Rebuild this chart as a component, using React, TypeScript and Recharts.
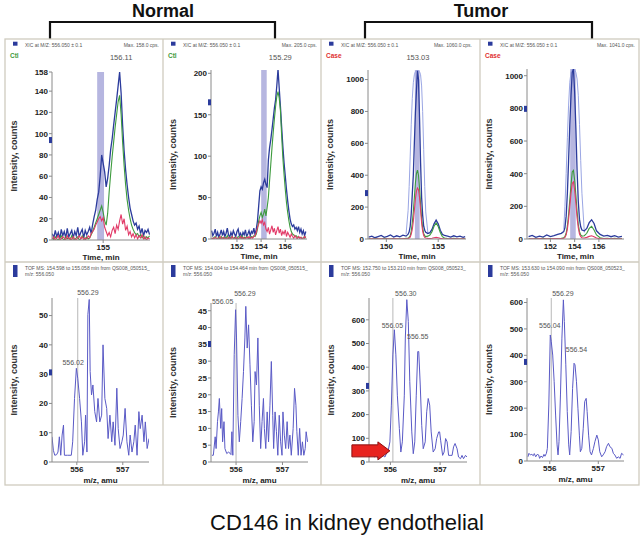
import React from 'react';
import { ComposedChart, Line, XAxis, YAxis, ReferenceArea, ReferenceLine, ReferenceDot } from 'recharts';

const FONT = '"Liberation Sans", Arial, Helvetica, sans-serif';

// ---------------- XIC panel 1 (Normal, Ctl) ----------------
const xic1Time = [
  151.6, 151.7, 151.8, 151.9, 152.0, 152.1, 152.2, 152.3, 152.4, 152.5,
  152.6, 152.7, 152.8, 152.9, 153.0, 153.1, 153.2, 153.3, 153.4, 153.5,
  153.6, 153.7, 153.8, 153.9, 154.0, 154.1, 154.2, 154.3, 154.4, 154.5,
  154.6, 154.7, 154.8, 154.9, 155.0, 155.1, 155.2, 155.3, 155.4, 155.5,
  155.6, 155.7, 155.8, 155.9, 156.0, 156.1, 156.2, 156.3, 156.4, 156.5,
  156.6, 156.7, 156.8, 156.9, 157.0, 157.1, 157.2, 157.3, 157.4, 157.5,
  157.6, 157.7, 157.8, 157.9, 158.0, 158.1,
];
const xic1Blue = [
  6, 2, 9, 3, 7, 1, 10, 4, 8, 2,
  11, 3, 6, 9, 2, 8, 4, 12, 3, 7,
  10, 2, 9, 5, 8, 12, 6, 15, 22, 28,
  38, 45, 60, 80, 72, 64, 50, 58, 70, 85,
  95, 108, 120, 132, 145, 158, 138, 108, 84, 66,
  52, 40, 30, 24, 18, 14, 16, 10, 13, 6,
  11, 4, 9, 7, 10, 5,
];
const xic1Green = [
  2, 0, 3, 1, 0, 2, 4, 1, 0, 3,
  1, 2, 0, 4, 1, 0, 2, 3, 0, 1,
  4, 2, 0, 3, 1, 2, 5, 8, 12, 16,
  20, 24, 28, 32, 26, 18, 14, 25, 45, 62,
  78, 92, 106, 118, 130, 136, 118, 92, 70, 52,
  38, 28, 20, 14, 10, 7, 5, 6, 3, 5,
  2, 4, 1, 3, 2, 4,
];
const xic1Red = [
  1, 3, 0, 2, 4, 0, 1, 3, 2, 0,
  4, 1, 2, 0, 3, 1, 0, 2, 4, 1,
  3, 0, 2, 1, 4, 2, 6, 8, 10, 14,
  17, 20, 22, 18, 21, 12, 8, 4, 7, 3,
  9, 12, 6, 14, 10, 18, 24, 15, 20, 9,
  13, 5, 8, 3, 6, 2, 5, 1, 4, 2,
  5, 1, 3, 0, 2, 1,
];
const xic1XDomain = [151.58, 158.13];
const xic1XTicks = [155];
const xic1YDomain = [0, 158];
const xic1YTicks = [0, 20, 40, 60, 80, 100, 120, 140, 158];
const xic1Band = [154.598, 155.058];
const xic1Labels = [{ text: '156.11', x: 156.2, y: 169 }];
const xic1Marker = 94;

// ---------------- XIC panel 2 (Normal, Ctl) ----------------
const xic2Time = [
  149.9, 150.0, 150.1, 150.2, 150.3, 150.4, 150.5, 150.6, 150.7, 150.8,
  150.9, 151.0, 151.1, 151.2, 151.3, 151.4, 151.5, 151.6, 151.7, 151.8,
  151.9, 152.0, 152.1, 152.2, 152.3, 152.4, 152.5, 152.6, 152.7, 152.8,
  152.9, 153.0, 153.1, 153.2, 153.3, 153.4, 153.5, 153.6, 153.7, 153.8,
  153.9, 154.0, 154.1, 154.2, 154.3, 154.4, 154.5, 154.6, 154.7, 154.8,
  154.9, 155.0, 155.1, 155.2, 155.3, 155.4, 155.5, 155.6, 155.7, 155.8,
  155.9, 156.0, 156.1, 156.2, 156.3, 156.4, 156.5, 156.6, 156.7, 156.8,
  156.9, 157.0, 157.1, 157.2, 157.3, 157.4, 157.5, 157.6, 157.7,
];
const xic2Blue = [
  10, 4, 7, 12, 3, 8, 2, 6, 11, 4,
  9, 3, 7, 13, 5, 2, 8, 4, 10, 6,
  3, 9, 12, 4, 7, 2, 8, 5, 11, 3,
  6, 10, 4, 9, 7, 13, 5, 12, 22, 40,
  58, 63, 60, 68, 72, 66, 62, 95, 110, 120,
  132, 145, 158, 168, 185, 205, 182, 160, 135, 112,
  92, 76, 60, 46, 34, 24, 18, 15, 17, 12,
  14, 10, 15, 8, 12, 6, 10, 4, 9,
];
const xic2Green = [
  1, 0, 2, 3, 0, 1, 2, 0, 3, 1,
  0, 2, 1, 4, 0, 2, 1, 3, 0, 2,
  1, 0, 3, 2, 1, 4, 0, 2, 1, 3,
  2, 0, 1, 3, 2, 4, 3, 6, 12, 22,
  28, 32, 26, 30, 36, 28, 38, 50, 70, 90,
  110, 128, 145, 160, 172, 178, 170, 155, 125, 98,
  78, 60, 44, 32, 22, 14, 9, 6, 5, 3,
  4, 2, 3, 1, 2, 0, 2, 1, 3,
];
const xic2Red = [
  0, 1, 0, 2, 1, 0, 1, 3, 0, 1,
  2, 0, 1, 0, 2, 1, 0, 3, 1, 0,
  2, 1, 0, 1, 3, 0, 2, 1, 0, 2,
  1, 3, 0, 2, 1, 3, 4, 8, 14, 18,
  22, 19, 23, 17, 20, 12, 9, 14, 6, 11,
  16, 8, 13, 5, 10, 15, 7, 12, 4, 9,
  6, 11, 3, 8, 5, 2, 6, 3, 1, 4,
  2, 0, 3, 1, 2, 0, 1, 3, 1,
];
const xic2XDomain = [149.85, 157.8];
const xic2XTicks = [152, 154, 156];
const xic2YDomain = [0, 204];
const xic2YTicks = [0, 50, 100, 150, 200];
const xic2Band = [154.004, 154.464];
const xic2Labels = [{ text: '155.29', x: 155.59, y: 216 }];
const xic2Marker = 165;

// ---------------- XIC panel 3 (Tumor, Case) ----------------
const xic3Time = [
  148.3, 148.6, 148.9, 149.2, 149.5, 149.8, 150.1, 150.4, 150.7, 151.0, 151.3, 151.6, 151.9,
  152.1, 152.2, 152.3, 152.4, 152.5, 152.6, 152.7, 152.8, 152.9, 153.0, 153.1, 153.2, 153.3,
  153.4, 153.5, 153.6, 153.7, 153.8,
  154.0, 154.2, 154.4, 154.6, 154.8, 155.0, 155.2, 155.4, 155.6,
  155.9, 156.2, 156.5, 156.8, 157.1, 157.4, 157.6,
];
const xic3Blue = [
  12, 18, 8, 15, 22, 10, 16, 25, 12, 20, 14, 24, 18,
  30, 45, 80, 160, 280, 400, 600, 790, 930, 1055, 1000, 760, 480,
  260, 150, 80, 55, 42,
  35, 40, 60, 95, 118, 95, 55, 30, 22,
  18, 12, 20, 14, 18, 10, 15,
];
const xic3Green = [
  2, 0, 3, 1, 0, 4, 2, 1, 3, 0, 2, 1, 4,
  5, 10, 20, 50, 100, 170, 260, 350, 410, 432, 400, 320, 220,
  130, 70, 35, 20, 15,
  18, 25, 45, 80, 100, 78, 40, 15, 6,
  3, 1, 4, 2, 0, 3, 1,
];
const xic3Red = [
  0, 1, 0, 2, 1, 0, 1, 0, 2, 1, 0, 1, 2,
  3, 6, 12, 30, 60, 110, 180, 250, 300, 320, 310, 260, 180,
  100, 50, 22, 10, 6,
  4, 3, 5, 8, 10, 8, 4, 2, 1,
  0, 1, 0, 1, 0, 1, 0,
];
const xic3Env = [
  null, null, null, null, null, null, null, null, null, null, null, null, 30,
  180, 330, 520, 720, 880, 980, 1030, 1050, 1055, 1058, 1055, 1050, 1030,
  960, 800, 560, 330, 170,
  40, null, null, null, null, null, null, null, null,
  null, null, null, null, null, null, null,
];
const xic3XDomain = [148.23, 157.68];
const xic3XTicks = [150, 155];
const xic3YDomain = [0, 1060];
const xic3YTicks = [0, 200, 400, 600, 800, 1000];
const xic3Band = [152.75, 153.21];
const xic3Labels = [{ text: '153.03', x: 153.04, y: 1121 }];
const xic3Marker = 288;

// ---------------- XIC panel 4 (Tumor, Case) ----------------
const xic4Time = [
  150.2, 150.5, 150.8, 151.1, 151.4, 151.7, 152.0, 152.3, 152.6, 152.9,
  153.1, 153.2, 153.3, 153.4, 153.5, 153.6, 153.7, 153.8, 153.9, 154.0,
  154.1, 154.2, 154.3, 154.4, 154.5, 154.6,
  154.8, 155.0, 155.2, 155.4, 155.6, 155.8,
  156.1, 156.4, 156.7, 157.0, 157.3, 157.6, 157.9,
];
const xic4Blue = [
  14, 22, 10, 18, 12, 25, 15, 20, 28, 35,
  45, 70, 140, 280, 480, 700, 880, 1020, 1041, 900,
  680, 420, 230, 120, 75, 55,
  50, 65, 100, 118, 95, 50,
  28, 18, 22, 14, 20, 12, 16,
];
const xic4Green = [
  2, 0, 3, 1, 4, 0, 2, 1, 3, 5,
  8, 15, 35, 80, 150, 240, 330, 410, 420, 360,
  270, 170, 90, 45, 25, 18,
  20, 35, 65, 78, 55, 25,
  8, 3, 5, 2, 4, 1, 3,
];
const xic4Red = [
  0, 1, 0, 2, 0, 1, 0, 2, 1, 2,
  5, 10, 25, 60, 120, 200, 280, 340, 350, 300,
  220, 130, 70, 30, 15, 8,
  6, 10, 16, 20, 14, 6,
  2, 1, 2, 0, 1, 0, 1,
];
const xic4Env = [
  null, null, null, null, null, null, null, null, null, null,
  60, 200, 400, 620, 820, 960, 1020, 1040, 1041, 1038,
  1020, 980, 880, 700, 480, 280,
  40, null, null, null, null, null,
  null, null, null, null, null, null, null,
];
const xic4XDomain = [150.07, 158.07];
const xic4XTicks = [152, 154, 156];
const xic4YDomain = [0, 1041];
const xic4YTicks = [0, 200, 400, 600, 800, 1000];
const xic4Band = [153.63, 154.09];
const xic4Labels: { text: string; x: number; y: number }[] = [];
const xic4Marker = 797;

// ---------------- TOF MS panel 1 ----------------
const ms1Mz = [
  555.46, 555.49, 555.52, 555.56, 555.59, 555.62, 555.65, 555.68, 555.71, 555.73,
  555.80, 555.88, 555.91, 555.95, 555.99, 556.02, 556.06, 556.10, 556.13, 556.17,
  556.19, 556.22, 556.24, 556.27, 556.29, 556.32, 556.35, 556.39, 556.43, 556.46,
  556.50, 556.54, 556.57, 556.61, 556.65, 556.68, 556.72, 556.76, 556.79, 556.83,
  556.87, 556.90, 556.94, 556.98, 557.01, 557.05, 557.09, 557.13, 557.16, 557.20,
  557.24, 557.27, 557.31, 557.35, 557.38, 557.42, 557.46, 557.49, 557.53, 557.57,
];
const ms1Int = [
  8.6, 4.0, 2.3, 2.5, 3.4, 8.6, 2.3, 9.2, 12.6, 2.3,
  2.3, 2.3, 6.9, 21.7, 32.0, 28.6, 21.7, 13.7, 2.3, 6.9,
  16.0, 3.4, 50.3, 55.5, 30.9, 22.9, 26.3, 17.2, 13.7, 21.7,
  13.7, 16.0, 40.0, 21.7, 18.3, 8.0, 16.0, 6.9, 13.7, 5.7,
  25.2, 11.4, 4.6, 6.9, 9.2, 18.3, 6.9, 2.3, 9.2, 3.4,
  6.9, 12.6, 2.3, 17.2, 11.4, 16.0, 6.9, 13.7, 4.6, 8.0,
];
const ms1XDomain = [555.46, 557.57];
const ms1YDomain = [0, 56];
const ms1YTicks = [0, 10, 20, 30, 40, 50];
const ms1RefLine = 556.02;
const ms1Labels = [
  { text: '556.29', x: 556.24, y: 57 },
  { text: '556.02', x: 555.92, y: 33 },
];
const ms1Marker = 30.6;

// ---------------- TOF MS panel 2 ----------------
const ms2Mz = [
  555.48, 555.51, 555.55, 555.57, 555.60, 555.62, 555.64, 555.67, 555.69, 555.71,
  555.74, 555.76, 555.80, 555.84, 555.89, 555.91, 555.93, 555.96, 555.99, 556.01,
  556.04, 556.07, 556.10, 556.13, 556.16, 556.19, 556.21, 556.24, 556.27, 556.30,
  556.33, 556.36, 556.39, 556.41, 556.44, 556.47, 556.50, 556.53, 556.56, 556.59,
  556.61, 556.64, 556.67, 556.70, 556.73, 556.76, 556.79, 556.81, 556.84, 556.87,
  556.90, 556.93, 556.96, 556.99, 557.01, 557.04, 557.07, 557.10, 557.13, 557.16,
  557.19, 557.23, 557.26, 557.29, 557.31, 557.34, 557.37, 557.40, 557.43, 557.46,
  557.49, 557.51, 557.54,
];
const ms2Int = [
  2.0, 2.0, 7.5, 4.0, 12, 14.9, 18.9, 10, 15.9, 6,
  12, 4, 2.5, 3, 2.2, 9, 2, 31.9, 45.3, 36.9,
  13.9, 6, 12, 18.9, 26.9, 36.9, 46.3, 33.9, 40.8, 28.9,
  16.9, 6, 12, 26.9, 22.9, 36.9, 16.9, 4, 12, 18.9,
  10, 4, 14.9, 6, 16.9, 29.9, 13.9, 4, 14.9, 9,
  2, 13.9, 6, 2, 14.9, 8, 4, 12, 4, 8,
  2, 10, 21.9, 16.9, 9, 2, 10, 2, 6, 2,
  4, 9, 6,
];
const ms2XDomain = [555.46, 557.55];
const ms2YDomain = [0, 47.3];
const ms2YTicks = [0, 5, 10, 15, 20, 25, 30, 35, 40, 45];
const ms2RefLine = 556.0;
const ms2Labels = [
  { text: '556.29', x: 556.19, y: 49.5 },
  { text: '556.05', x: 555.71, y: 47.1 },
];
const ms2Marker = 35.1;

// ---------------- TOF MS panel 3 ----------------
const ms3Mz = [
  555.57, 555.60, 555.62, 555.65, 555.68, 555.72, 555.75, 555.78, 555.82, 555.85,
  555.89, 555.92, 555.95, 555.99, 556.02, 556.05, 556.08, 556.11, 556.14, 556.18,
  556.21, 556.24, 556.28, 556.30, 556.33, 556.36, 556.39, 556.43, 556.46, 556.49,
  556.52, 556.55, 556.57, 556.60, 556.63, 556.66, 556.70, 556.73, 556.76, 556.79,
  556.82, 556.86, 556.90, 556.93, 556.97, 556.99, 557.01, 557.05, 557.08, 557.11,
  557.14, 557.17, 557.20, 557.24, 557.27, 557.30, 557.34, 557.37, 557.41, 557.44,
  557.47, 557.51, 557.54,
];
const ms3Int = [
  21, 31, 42, 35, 21, 28, 17, 14, 24, 28,
  21, 35, 42, 85, 240, 452, 558, 452, 282, 141,
  42, 85, 282, 523, 685, 593, 339, 127, 35, 85,
  282, 466, 466, 325, 155, 56, 85, 212, 268, 240,
  127, 42, 56, 99, 127, 127, 92, 28, 42, 99,
  85, 28, 28, 28, 64, 78, 56, 21, 14, 28,
  14, 28, 21,
];
const ms3XDomain = [555.57, 557.54];
const ms3YDomain = [0, 692];
const ms3YTicks = [0, 100, 200, 300, 400, 500, 600];
const ms3RefLine = 556.05;
const ms3Labels = [
  { text: '556.30', x: 556.31, y: 702 },
  { text: '556.05', x: 556.04, y: 566 },
  { text: '556.55', x: 556.55, y: 520 },
];
const ms3Marker = 321;
const ms3Arrow = { x: 555.99, y: 47 };

// ---------------- TOF MS panel 4 ----------------
const ms4Mz = [
  555.55, 555.57, 555.60, 555.63, 555.66, 555.68, 555.71, 555.74, 555.77, 555.79,
  555.82, 555.85, 555.88, 555.90, 555.93, 555.95, 555.98, 556.01, 556.03, 556.06,
  556.09, 556.12, 556.15, 556.17, 556.19, 556.22, 556.25, 556.28, 556.30, 556.33,
  556.36, 556.39, 556.41, 556.44, 556.47, 556.50, 556.52, 556.55, 556.58, 556.61,
  556.63, 556.66, 556.69, 556.72, 556.75, 556.77, 556.80, 556.83, 556.86, 556.90,
  556.93, 556.97, 557.00, 557.03, 557.07, 557.10, 557.14, 557.17, 557.21, 557.24,
  557.28, 557.31, 557.34, 557.38, 557.41, 557.45, 557.48, 557.52,
];
const ms4Int = [
  16, 29, 23, 25, 20, 28, 16, 25, 23, 10,
  19, 13, 25, 18, 29, 48, 212, 477, 452, 401,
  300, 174, 61, 23, 73, 250, 465, 610, 528, 364,
  187, 61, 23, 111, 275, 370, 364, 300, 200, 98,
  35, 48, 124, 225, 237, 187, 98, 35, 23, 48,
  73, 98, 80, 35, 16, 23, 35, 54, 67, 54,
  48, 29, 23, 10, 16, 10, 29, 23,
];
const ms4XDomain = [555.53, 557.53];
const ms4YDomain = [0, 617];
const ms4YTicks = [0, 100, 200, 300, 400, 500, 600];
const ms4RefLine = 556.03;
const ms4Labels = [
  { text: '556.29', x: 556.27, y: 625 },
  { text: '556.04', x: 556.0, y: 504 },
  { text: '556.54', x: 556.55, y: 413 },
];
const ms4Marker = 375;

const msXTicks = [556, 557];

// ---------------- text content ----------------
const groupTitles = ['Normal', 'Tumor'];
const conditionLabels = ['Ctl', 'Ctl', 'Case', 'Case'];
const maxLabels = ['Max. 158.0 cps.', 'Max. 205.0 cps.', 'Max. 1060.0 cps.', 'Max. 1041.0 cps.'];
const xicHeader = 'XIC at M/Z: 556.050 \u00b1 0.1';
const tofHeaders = [
  'TOF MS: 154.598 to 155.058 min from QS008_050515_',
  'TOF MS: 154.004 to 154.464 min from QS008_050515_',
  'TOF MS: 152.750 to 153.210 min from QS008_050523_',
  'TOF MS: 153.630 to 154.090 min from QS008_050523_',
];
const tofSubHeader = 'm/z: 556.050';
const caption = 'CD146 in kidney endothelial';

// ---------------- layout ----------------
const ML = 48, MT = 22, MR = 12, MB = 30;
const cols = [
  { left: 5, right: 163 },
  { left: 163, right: 321 },
  { left: 321, right: 480 },
  { left: 480, right: 639 },
];
const rowTop = 39, rowMid = 262, rowBottom = 485;

const COLORS = {
  blue: '#2b3b9c',
  green: '#3d9b3d',
  red: '#e23a68',
  env: '#9aa6e4',
  ms: '#5a5ac6',
  band: '#9d9dd6',
  axis: '#8a8a8a',
};

const tickStyle = { fontSize: 8, fontWeight: 700, fill: '#222', fontFamily: FONT };

type Box = { left: number; right: number; top: number; bottom: number };
type Lbl = { text: string; x: number; y: number };

const xicPanels = [
  { time: xic1Time, blue: xic1Blue, green: xic1Green, red: xic1Red, env: null as (number | null)[] | null,
    xDomain: xic1XDomain, xTicks: xic1XTicks, yDomain: xic1YDomain, yTicks: xic1YTicks,
    band: xic1Band, labels: xic1Labels, marker: xic1Marker, box: { left: 52, right: 150, top: 72, bottom: 240 } },
  { time: xic2Time, blue: xic2Blue, green: xic2Green, red: xic2Red, env: null,
    xDomain: xic2XDomain, xTicks: xic2XTicks, yDomain: xic2YDomain, yTicks: xic2YTicks,
    band: xic2Band, labels: xic2Labels, marker: xic2Marker, box: { left: 211, right: 307, top: 70, bottom: 239 } },
  { time: xic3Time, blue: xic3Blue, green: xic3Green, red: xic3Red, env: xic3Env,
    xDomain: xic3XDomain, xTicks: xic3XTicks, yDomain: xic3YDomain, yTicks: xic3YTicks,
    band: xic3Band, labels: xic3Labels, marker: xic3Marker, box: { left: 368, right: 466, top: 70, bottom: 239 } },
  { time: xic4Time, blue: xic4Blue, green: xic4Green, red: xic4Red, env: xic4Env,
    xDomain: xic4XDomain, xTicks: xic4XTicks, yDomain: xic4YDomain, yTicks: xic4YTicks,
    band: xic4Band, labels: xic4Labels, marker: xic4Marker, box: { left: 527, right: 624, top: 69, bottom: 239 } },
];

const msPanels = [
  { mz: ms1Mz, int: ms1Int, xDomain: ms1XDomain, yDomain: ms1YDomain, yTicks: ms1YTicks,
    refLine: ms1RefLine, labels: ms1Labels, marker: ms1Marker, arrow: null as { x: number; y: number } | null,
    box: { left: 52, right: 149, top: 298, bottom: 462 } },
  { mz: ms2Mz, int: ms2Int, xDomain: ms2XDomain, yDomain: ms2YDomain, yTicks: ms2YTicks,
    refLine: ms2RefLine, labels: ms2Labels, marker: ms2Marker, arrow: null,
    box: { left: 211, right: 308, top: 303, bottom: 462 } },
  { mz: ms3Mz, int: ms3Int, xDomain: ms3XDomain, yDomain: ms3YDomain, yTicks: ms3YTicks,
    refLine: ms3RefLine, labels: ms3Labels, marker: ms3Marker, arrow: ms3Arrow,
    box: { left: 369, right: 467, top: 298, bottom: 462 } },
  { mz: ms4Mz, int: ms4Int, xDomain: ms4XDomain, yDomain: ms4YDomain, yTicks: ms4YTicks,
    refLine: ms4RefLine, labels: ms4Labels, marker: ms4Marker, arrow: null,
    box: { left: 527, right: 624, top: 298, bottom: 461 } },
];

function textShape(text: string, size: number) {
  return (p: any) => (
    <text x={p.cx} y={p.cy} textAnchor="middle" fontSize={size} fill="#555" fontFamily={FONT}>
      {text}
    </text>
  );
}

function markerShape(color: string) {
  return (p: any) => <rect x={p.cx - 3} y={p.cy - 3} width={3} height={6} fill={color} />;
}

function arrowShape(p: any) {
  const x = p.cx, y = p.cy;
  const pts = [
    [x, y], [x - 12, y - 9], [x - 12, y - 6], [x - 38, y - 6],
    [x - 38, y + 6], [x - 12, y + 6], [x - 12, y + 9],
  ].map((q) => q.join(',')).join(' ');
  return <polygon points={pts} fill="#e8231f" stroke="#8e1010" strokeWidth={1} />;
}

function Frame({ box, children, data, xDomain, xTicks, yDomain, yTicks }: any) {
  const w = box.right - box.left + ML + MR;
  const h = box.bottom - box.top + MT + MB;
  return (
    <div style={{ position: 'absolute', left: box.left - ML, top: box.top - MT, width: w, height: h }}>
      <ComposedChart width={w} height={h} data={data} margin={{ top: MT, right: MR, bottom: 0, left: 0 }}>
        <XAxis dataKey="x" type="number" domain={xDomain} ticks={xTicks} allowDataOverflow interval={0}
          height={MB} tickSize={3} tickMargin={1} stroke={COLORS.axis} tick={tickStyle} />
        <YAxis type="number" domain={yDomain} ticks={yTicks} allowDataOverflow interval={0}
          width={ML} tickSize={3} tickMargin={1} stroke={COLORS.axis} tick={tickStyle} />
        {children}
      </ComposedChart>
    </div>
  );
}

function XicChart({ cfg }: { cfg: (typeof xicPanels)[number] }) {
  const data = cfg.time.map((t, i) => ({
    x: t,
    blue: cfg.blue[i],
    green: cfg.green[i],
    red: cfg.red[i],
    env: cfg.env ? cfg.env[i] : null,
  }));
  return (
    <Frame box={cfg.box} data={data} xDomain={cfg.xDomain} xTicks={cfg.xTicks} yDomain={cfg.yDomain} yTicks={cfg.yTicks}>
      <ReferenceArea x1={cfg.band[0]} x2={cfg.band[1]} fill={COLORS.band} fillOpacity={0.75} stroke="none" ifOverflow="hidden" />
      {cfg.env && (
        <Line dataKey="env" stroke={COLORS.env} strokeWidth={1} dot={false} isAnimationActive={false} connectNulls={false} />
      )}
      <Line dataKey="blue" stroke={COLORS.blue} strokeWidth={1.3} dot={false} isAnimationActive={false} />
      <Line dataKey="green" stroke={COLORS.green} strokeWidth={1.1} dot={false} isAnimationActive={false} />
      <Line dataKey="red" stroke={COLORS.red} strokeWidth={1.1} dot={false} isAnimationActive={false} />
      {cfg.labels.map((l: Lbl) => (
        <ReferenceDot key={l.text} x={l.x} y={l.y} ifOverflow="visible" shape={textShape(l.text, 7.5)} />
      ))}
      <ReferenceDot x={cfg.xDomain[0]} y={cfg.marker} ifOverflow="visible" shape={markerShape(COLORS.blue)} />
    </Frame>
  );
}

function MsChart({ cfg }: { cfg: (typeof msPanels)[number] }) {
  const data = cfg.mz.map((m, i) => ({ x: m, y: cfg.int[i] }));
  return (
    <Frame box={cfg.box} data={data} xDomain={cfg.xDomain} xTicks={msXTicks} yDomain={cfg.yDomain} yTicks={cfg.yTicks}>
      <ReferenceLine x={cfg.refLine} stroke="#b8b8b8" strokeWidth={1} />
      <Line dataKey="y" stroke={COLORS.ms} strokeWidth={1} dot={false} isAnimationActive={false} />
      {cfg.labels.map((l: Lbl) => (
        <ReferenceDot key={l.text} x={l.x} y={l.y} ifOverflow="visible" shape={textShape(l.text, 7)} />
      ))}
      <ReferenceDot x={cfg.xDomain[0]} y={cfg.marker} ifOverflow="visible" shape={markerShape(COLORS.blue)} />
      {cfg.arrow && <ReferenceDot x={cfg.arrow.x} y={cfg.arrow.y} ifOverflow="visible" shape={arrowShape} />}
    </Frame>
  );
}

function Overlay() {
  const frameColor = '#cfcbbf';
  return (
    <svg width={644} height={537} style={{ position: 'absolute', left: 0, top: 0 }} fontFamily={FONT}>
      <rect x={0} y={0} width={644} height={537} fill="#fff" />
      {/* group titles and brackets */}
      <text x={163} y={17} textAnchor="middle" fontSize={18} fontWeight={700} fill="#111">{groupTitles[0]}</text>
      <text x={481} y={17} textAnchor="middle" fontSize={18} fontWeight={700} fill="#111">{groupTitles[1]}</text>
      <polyline points="50,39 50,22 275,22 275,39" fill="none" stroke="#111" strokeWidth={2.2} />
      <polyline points="365,39 365,22 592,22 592,39" fill="none" stroke="#111" strokeWidth={2.2} />

      {/* panel frames */}
      <rect x={cols[0].left} y={rowTop} width={cols[3].right - cols[0].left} height={rowBottom - rowTop}
        fill="none" stroke={frameColor} strokeWidth={1.3} />
      {cols.slice(1).map((c, i) => (
        <line key={'v' + i} x1={c.left} y1={rowTop} x2={c.left} y2={rowBottom} stroke={frameColor} strokeWidth={1.3} />
      ))}
      <line x1={cols[0].left} y1={rowMid} x2={cols[3].right} y2={rowMid} stroke={frameColor} strokeWidth={1.3} />

      {/* XIC headers */}
      {cols.map((c, i) => (
        <g key={'h' + i}>
          <rect x={c.left + 8} y={41.7} width={4.5} height={4} fill={COLORS.blue} />
          <text x={c.left + 20} y={46.5} fontSize={5} fill="#555">{xicHeader}</text>
          <text x={c.right - (i === 2 ? 8 : 4)} y={46.5} fontSize={5} fill="#555" textAnchor="end">{maxLabels[i]}</text>
          <text x={c.left + 5} y={57.5} fontSize={6.5} fontWeight={700}
            fill={conditionLabels[i] === 'Ctl' ? '#3d9b3d' : '#e03030'}>{conditionLabels[i]}</text>
        </g>
      ))}

      {/* TOF headers */}
      {cols.map((c, i) => (
        <g key={'t' + i}>
          <rect x={c.left + 8} y={265} width={4.5} height={12} fill={COLORS.blue} />
          <text x={c.left + 20} y={270} fontSize={5} fill="#555">{tofHeaders[i]}</text>
          <text x={c.left + 20} y={276} fontSize={5} fill="#555">{tofSubHeader}</text>
        </g>
      ))}

      {/* axis titles */}
      {xicPanels.map((p, i) => (
        <g key={'xa' + i}>
          <text x={p.box.left - 38} y={(p.box.top + p.box.bottom) / 2} fontSize={9} fontWeight={700} fill="#333"
            textAnchor="middle" dominantBaseline="central"
            transform={`rotate(-90, ${p.box.left - 38}, ${(p.box.top + p.box.bottom) / 2})`}>Intensity, counts</text>
          <text x={(p.box.left + p.box.right) / 2} y={p.box.bottom + 20} fontSize={8} fontWeight={700} fill="#222"
            textAnchor="middle">Time, min</text>
        </g>
      ))}
      {msPanels.map((p, i) => (
        <g key={'ma' + i}>
          <text x={p.box.left - 38} y={(p.box.top + p.box.bottom) / 2} fontSize={9} fontWeight={700} fill="#333"
            textAnchor="middle" dominantBaseline="central"
            transform={`rotate(-90, ${p.box.left - 38}, ${(p.box.top + p.box.bottom) / 2})`}>Intensity, counts</text>
          <text x={(p.box.left + p.box.right) / 2} y={p.box.bottom + 20.5} fontSize={8} fontWeight={700} fill="#222"
            textAnchor="middle">m/z, amu</text>
        </g>
      ))}

      <text x={347} y={530} textAnchor="middle" fontSize={22} fill="#111">{caption}</text>
    </svg>
  );
}

export default function App() {
  return (
    <div style={{ position: 'absolute', left: 0, top: 0, width: 644, height: 537, overflow: 'hidden', background: '#fff', fontFamily: FONT }}>
      <Overlay />
      {xicPanels.map((p, i) => <XicChart key={'x' + i} cfg={p} />)}
      {msPanels.map((p, i) => <MsChart key={'m' + i} cfg={p} />)}
    </div>
  );
}
